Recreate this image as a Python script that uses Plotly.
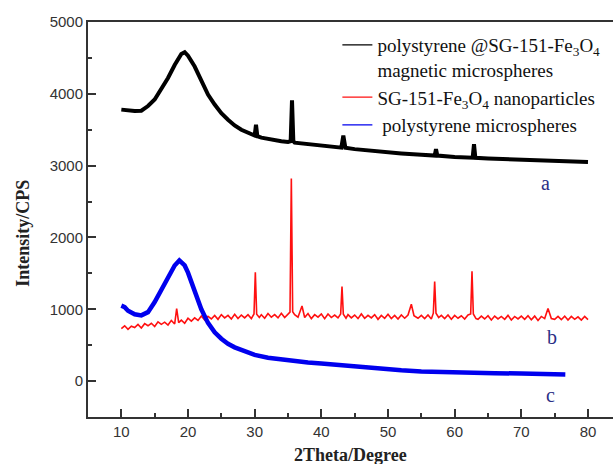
import plotly.graph_objects as go

# ---- data ----
a_x = [10, 11, 12, 13, 14, 15, 16, 17, 18, 19, 19.5, 20, 21, 22, 23, 24, 25, 26, 27, 28, 29, 30,
       30.2, 30.4, 31, 32, 33, 34, 35, 35.4, 35.6, 35.8, 36, 37, 38, 40, 42, 43, 43.3, 43.6, 45,
       47, 50, 52, 55, 57, 57.2, 57.4, 60, 62.7, 62.9, 63.1, 65, 68, 70, 73, 75, 78, 80]
a_y = [3780, 3770, 3760, 3765, 3830, 3920, 4060, 4220, 4400, 4555, 4580, 4530, 4380, 4180, 3990,
       3850, 3730, 3640, 3560, 3500, 3460, 3420, 3570, 3410, 3390, 3370, 3350, 3340, 3330, 3340,
       3910, 3340, 3320, 3310, 3300, 3280, 3260, 3250, 3420, 3250, 3230, 3210, 3180, 3170, 3150,
       3140, 3230, 3140, 3120, 3110, 3300, 3110, 3100, 3090, 3080, 3070, 3065, 3055, 3050]

b_x = [10.0, 10.5, 11.0, 11.5, 12.0, 12.5, 13.0, 13.5, 14.0, 14.5, 15.0, 15.5, 16.0, 16.5, 17.0,
       17.5, 18.0, 18.3, 18.6, 19.0, 19.5, 20.0, 20.5, 21.0, 21.5, 22.0, 22.5, 23.0, 23.5, 24.0,
       24.5, 25.0, 25.5, 26.0, 26.5, 27.0, 27.5, 28.0, 28.5, 29.0, 29.5, 29.9, 30.1, 30.3, 30.7,
       31.0, 31.5, 32.0, 32.5, 33.0, 33.5, 34.0, 34.5, 35.0, 35.3, 35.5, 35.7, 36.0, 36.5, 37.1,
       37.5, 38.0, 38.5, 39.0, 39.5, 40.0, 40.5, 41.0, 41.5, 42.0, 42.5, 42.9, 43.1, 43.3, 43.7,
       44.0, 44.5, 45.0, 45.5, 46.0, 46.5, 47.0, 47.5, 48.0, 48.5, 49.0, 49.5, 50.0, 50.5, 51.0,
       51.5, 52.0, 52.5, 53.0, 53.5, 53.9, 54.5, 55.0, 55.5, 56.0, 56.5, 56.8, 57.0, 57.2, 57.6,
       58.0, 58.5, 59.0, 59.5, 60.0, 60.5, 61.0, 61.5, 62.0, 62.4, 62.6, 62.8, 63.2, 63.5, 64.0,
       64.5, 65.0, 65.5, 66.0, 66.5, 67.0, 67.5, 68.0, 68.5, 69.0, 69.5, 70.0, 70.5, 71.0, 71.5,
       72.0, 72.5, 73.0, 73.5, 74.0, 74.5, 75.0, 75.5, 76.0, 76.5, 77.0, 77.5, 78.0, 78.5, 79.0,
       79.5, 80.0]
b_y = [730, 770, 720, 765, 745, 790, 740, 800, 770, 805, 760, 825, 790, 820, 780,
       845, 795, 1010, 815, 850, 805, 875, 835, 880, 845, 905, 850, 900, 865, 915,
       860, 925, 880, 915, 865, 930, 870, 920, 880, 925, 870, 935, 1515, 930, 885,
       925, 875, 940, 890, 925, 880, 945, 885, 940, 960, 2820, 965, 925, 890, 1045,
       885, 940, 870, 925, 890, 935, 870, 935, 885, 920, 880, 935, 1315, 930, 875,
       925, 880, 920, 870, 935, 875, 915, 880, 925, 860, 915, 875, 930, 870, 915,
       865, 920, 875, 920, 1070, 910, 875, 915, 870, 920, 865, 945, 1385, 945, 885,
       915, 870, 920, 860, 915, 875, 910, 865, 920, 935, 1530, 935, 870, 860, 905,
       865, 910, 850, 905, 865, 900, 860, 915, 850, 900, 865, 905, 860, 910, 855,
       905, 845, 900, 870, 1010, 870, 860, 900, 855, 905, 850, 900, 860, 895, 850,
       900, 855]

c_x = [10, 10.5, 11, 12, 13, 14, 15, 16, 17, 18, 18.7, 19.5, 20, 21, 22, 23, 24, 25, 26, 27, 28,
       29, 30, 32, 34, 36, 38, 40, 42, 44, 46, 48, 50, 52, 55, 58, 62, 66, 70, 74, 76.6]
c_y = [1050, 1030, 980, 930, 915, 960, 1100, 1280, 1460, 1610, 1680, 1610, 1510, 1250, 1000, 810,
       680, 590, 520, 470, 430, 395, 365, 325, 300, 280, 260, 245, 230, 210, 190, 170, 160, 150,
       135, 125, 115, 110, 105, 97, 93]

names = ["polystyrene @SG-151-Fe<sub>3</sub>O<sub>4</sub><br>magnetic microspheres",
         "SG-151-Fe<sub>3</sub>O<sub>4</sub> nanoparticles",
         " polystyrene microspheres"]
colors = ["black", "#ff1010", "#0000ee"]
curve_labels = ["a", "b", "c"]
label_x = [73.6, 74.6, 74.3]
label_y = [2760, 610, -200]

y_ticks = [0, 1000, 2000, 3000, 4000, 5000]
x_ticks = [10, 20, 30, 40, 50, 60, 70, 80]

fig = go.Figure()
fig.add_trace(go.Scatter(x=a_x, y=a_y, mode="lines", showlegend=False,
                         line=dict(color=colors[0], width=4)))
fig.add_trace(go.Scatter(x=b_x, y=b_y, mode="lines", showlegend=False,
                         line=dict(color=colors[1], width=1.6)))
fig.add_trace(go.Scatter(x=c_x, y=c_y, mode="lines", showlegend=False,
                         line=dict(color=colors[2], width=4.5)))
# legend entries with thin sample lines
for nm, col in zip(names, colors):
    fig.add_trace(go.Scatter(x=[None], y=[None], mode="lines", name=nm,
                             line=dict(color=col, width=1.2)))

for t, lx, ly in zip(curve_labels, label_x, label_y):
    fig.add_annotation(x=lx, y=ly, text=t, showarrow=False, xref="x", yref="y",
                       font=dict(family="Liberation Serif", size=20, color="#2b2f86"))

axis_common = dict(showgrid=False, zeroline=False, showline=True, linecolor="#333333",
                   linewidth=2, ticks="inside", tickcolor="#333333", tickwidth=2, ticklen=8,
                   automargin=False,
                   tickfont=dict(family="Liberation Sans", size=15, color="#333333"))

fig.update_xaxes(range=[5, 83.75], tickvals=x_ticks, mirror=True,
                 minor=dict(dtick=5, tick0=5, ticks="inside", ticklen=4, tickwidth=2,
                            tickcolor="#333333"),
                 **axis_common)
fig.update_yaxes(range=[-500, 5000], tickvals=y_ticks,
                 minor=dict(dtick=500, tick0=-500, ticks="inside", ticklen=4, tickwidth=2,
                            tickcolor="#333333"),
                 **axis_common)

fig.add_annotation(text="<b>Intensity/CPS</b>", textangle=-90, xref="paper", yref="paper",
                   x=-0.124, y=0.466, xanchor="center", yanchor="middle", showarrow=False,
                   font=dict(family="Liberation Serif", size=18, color="#222222"))
fig.add_annotation(text="<b>2Theta/Degree</b>", xref="paper", yref="paper",
                   x=0.5, y=-0.095, xanchor="center", yanchor="middle", showarrow=False,
                   font=dict(family="Liberation Serif", size=18, color="#222222"))

fig.update_layout(
    width=613, height=464,
    margin=dict(l=88, r=0, t=22, b=47, autoexpand=False),
    paper_bgcolor="white", plot_bgcolor="white",
    showlegend=True,
    legend=dict(x=0.475, y=0.99, xanchor="left", yanchor="top", valign="top",
                bgcolor="rgba(0,0,0,0)", tracegroupgap=0,
                font=dict(family="Liberation Serif", size=19, color="#111111")),
)

fig.write_html("out.html", config={"displayModeBar": False},
               post_script="document.body.style.margin='0';")
